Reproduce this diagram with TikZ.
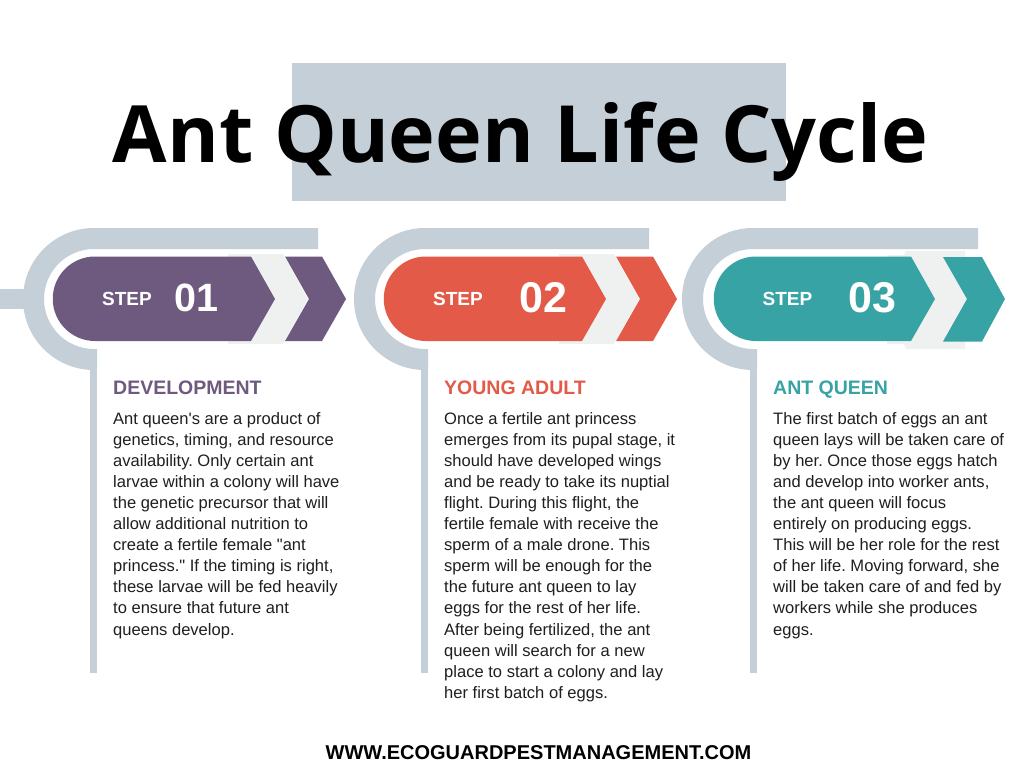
\documentclass[tikz,border=0pt]{standalone}
\usepackage{fontspec}
\setmainfont{Liberation Sans}
\newfontfamily\titlefont{Open Sans}
\newfontfamily\bodyfont{Liberation Sans}
\definecolor{band}{HTML}{C5CFD8}
\definecolor{chev}{HTML}{EFF1F0}
\definecolor{plum}{HTML}{6E5A7E}
\definecolor{coral}{HTML}{E35B48}
\definecolor{teal}{HTML}{38A3A5}
\tikzset{
  x=1pt,y=-1pt,
  steplabel/.style={text=white,font=\fontsize{19}{21}\selectfont\bfseries,anchor=center,inner sep=0},
  stepnum/.style={text=white,font=\fontsize{39.5}{44}\selectfont\bfseries,anchor=center,inner sep=0},
  stepnumwide/.style={text=white,font=\fontsize{43}{46}\selectfont\bfseries,anchor=center,inner sep=0},
  heading/.style={font=\fontsize{19.5}{22}\selectfont\bfseries,anchor=base west,inner sep=0},
  bodytext/.style={font=\bodyfont\frenchspacing\fontsize{16.55}{21.08}\selectfont,anchor=north west,inner sep=0,align=left,text=black!88},
}
\begin{document}
\begin{tikzpicture}
\useasboundingbox (0,0) rectangle (1024,768);
\fill[white] (0,0) rectangle (1024,768);
\fill[band] (292,63) rectangle (786,201);
\node[font=\titlefont\fontsize{79}{84}\selectfont\bfseries,anchor=base,inner sep=0] (title) at (520.5,162.5) {Ant Queen Life Cycle};
% ---- step 1
\fill[band] (0,289) rectangle (30,309);
\fill[band] (318,228) -- (94,228) arc[start angle=270,end angle=90,radius=71] -- (97,370) -- (97,349) -- (94,349) arc[start angle=90,end angle=270,radius=50] -- (318,249) -- cycle;
\fill[band] (90,360) rectangle (97,673);
\fill[plum] (285,256.5) -- (322,256.5) -- (346,299) -- (322,341) -- (285,341) -- (309,299) -- cycle;
\fill[chev] (228,254) -- (283,254) -- (308,299) -- (283,344) -- (228,344) -- cycle;
\fill[plum] (95,256.5) -- (251,256.5) -- (275,299) -- (251,341) -- (95,341) arc[start angle=90,end angle=270,radius=42.25] -- cycle;
\node[steplabel] (s1) at (127,299) {STEP};
\node[stepnum] (n1) at (196.5,298) {01};
\node[heading,text=plum] (h1) at (113,394) {DEVELOPMENT};
\node[bodytext] (b1) at (113,412) {Ant queen's are a product of\\genetics, timing, and resource\\availability. Only certain ant\\larvae within a colony will have\\the genetic precursor that will\\allow additional nutrition to\\create a fertile female "ant\\princess." If the timing is right,\\these larvae will be fed heavily\\to ensure that future ant\\queens develop.};
% ---- step 2
\fill[band] (649,228) -- (425,228) arc[start angle=270,end angle=90,radius=71] -- (428,370) -- (428,349) -- (425,349) arc[start angle=90,end angle=270,radius=50] -- (649,249) -- cycle;
\fill[band] (421,360) rectangle (428,673);
\fill[coral] (616,256.5) -- (653,256.5) -- (677,299) -- (653,341) -- (616,341) -- (640,299) -- cycle;
\fill[chev] (559,254) -- (614,254) -- (639,299) -- (614,344) -- (559,344) -- cycle;
\fill[coral] (426,256.5) -- (582,256.5) -- (606,299) -- (582,341) -- (426,341) arc[start angle=90,end angle=270,radius=42.25] -- cycle;
\node[steplabel] (s2) at (458,299) {STEP};
\node[stepnumwide] (n2) at (543.5,298) {02};
\node[heading,text=coral] (h2) at (444,394) {YOUNG ADULT};
\node[bodytext] (b2) at (444,412) {Once a fertile ant princess\\emerges from its pupal stage, it\\should have developed wings\\and be ready to take its nuptial\\flight. During this flight, the\\fertile female with receive the\\sperm of a male drone. This\\sperm will be enough for the\\the future ant queen to lay\\eggs for the rest of her life.\\After being fertilized, the ant\\queen will search for a new\\place to start a colony and lay\\her first batch of eggs.};
% ---- step 3
\fill[band] (978,228) -- (753,228) arc[start angle=270,end angle=90,radius=71] -- (757,370) -- (757,349) -- (753,349) arc[start angle=90,end angle=270,radius=50] -- (978,249) -- cycle;
\fill[band] (750,360) rectangle (757,673);
\fill[chev] (887,255) -- (904,255) -- (906,251) -- (965,251) -- (967,299) -- (965,349) -- (906,349) -- (904,344) -- (887,344) -- cycle;
\fill[teal] (943,257) -- (982,257) -- (1005,299) -- (982,341.5) -- (943,341.5) -- (967,299) -- cycle;
\fill[teal] (756,256.5) -- (911,256.5) -- (935,299) -- (911,341) -- (756,341) arc[start angle=90,end angle=270,radius=42.25] -- cycle;
\node[steplabel] (s3) at (787.5,299) {STEP};
\node[stepnumwide] (n3) at (872.5,298) {03};
\node[heading,text=teal] (h3) at (773,394) {ANT QUEEN};
\node[bodytext] (b3) at (773,412) {The first batch of eggs an ant\\queen lays will be taken care of\\by her. Once those eggs hatch\\and develop into worker ants,\\the ant queen will focus\\entirely on producing eggs.\\This will be her role for the rest\\of her life. Moving forward, she\\will be taken care of and fed by\\workers while she produces\\eggs.};
\node[font=\fontsize{20}{22}\selectfont\bfseries,anchor=center,inner sep=0] (foot) at (538.5,753) {WWW.ECOGUARDPESTMANAGEMENT.COM};
\end{tikzpicture}
\end{document}
